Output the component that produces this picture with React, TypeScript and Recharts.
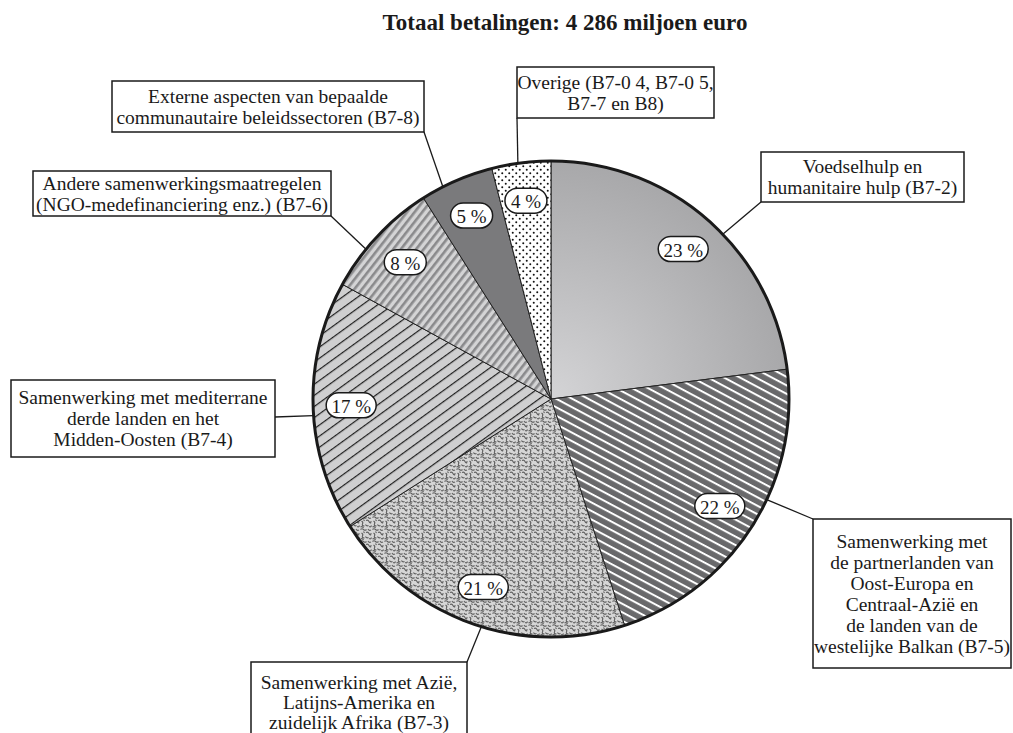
import { Pie, PieChart } from 'recharts';

const SLICE_NAMES = [
  'Voedselhulp en humanitaire hulp (B7-2)',
  'Oost-Europa, Centraal-Azië en westelijke Balkan (B7-5)',
  'Azië, Latijns-Amerika en zuidelijk Afrika (B7-3)',
  'Mediterrane derde landen en Midden-Oosten (B7-4)',
  'Andere samenwerkingsmaatregelen (B7-6)',
  'Externe aspecten (B7-8)',
  'Overige (B7-0 4, B7-0 5, B7-7 en B8)'
];
const SLICE_SHARES = [23, 22, 21, 17, 8, 5, 4];

const CALLOUT_LINES = [
  ['Voedselhulp en', 'humanitaire hulp (B7‑2)'],
  [
    'Samenwerking met',
    'de partnerlanden van',
    'Oost‑Europa en',
    'Centraal‑Azië en',
    'de landen van de',
    'westelijke Balkan (B7‑5)'
  ],
  ['Samenwerking met Azië,', 'Latijns‑Amerika en', 'zuidelijk Afrika (B7‑3)'],
  ['Samenwerking met mediterrane', 'derde landen en het', 'Midden‑Oosten (B7‑4)'],
  ['Andere samenwerkingsmaatregelen', '(NGO‑medefinanciering enz.) (B7‑6)'],
  ['Externe aspecten van bepaalde', 'communautaire beleidssectoren (B7‑8)'],
  ['Overige (B7‑0 4, B7‑0 5,', 'B7‑7 en B8)']
];

const TITLE = 'Totaal betalingen: 4 286 miljoen euro';

// layout
const CX = 551;
const CY = 399;
const R = 238;
const FONT = '"Liberation Serif", "Times New Roman", serif';
const FILLS = ['url(#fFood)', 'url(#fEast)', 'url(#fAsia)', 'url(#fMed)', 'url(#fOther)', '#7a7a7c', 'url(#fDots)'];

// box x, y, w, h, anchor on box, rim angle for the leader line, optional first text line y
const BOXES = [
  { x: 761, y: 152, w: 203, h: 50, ax: 761, ay: 202, angle: 43.8, ty: 0 },
  { x: 813, y: 519, w: 198, h: 149, ax: 813, ay: 519, angle: -25, ty: 0 },
  { x: 251, y: 662, w: 216, h: 90, ax: 467, ay: 662, angle: -107, ty: 682 },
  { x: 11, y: 380, w: 264, h: 77, ax: 275, ay: 417, angle: 184, ty: 0 },
  { x: 33, y: 171, w: 298, h: 45, ax: 331, ay: 216, angle: 141, ty: 0 },
  { x: 112, y: 81, w: 312, h: 51, ax: 424, ay: 132, angle: 117, ty: 0 },
  { x: 517, y: 67, w: 197, h: 51, ax: 517, ay: 118, angle: 98, ty: 0 }
];

const data = SLICE_NAMES.map((name, i) => ({ name, value: SLICE_SHARES[i], fill: FILLS[i] }));

const RAD = Math.PI / 180;

function renderLabel(props: any) {
  const { cx, cy, midAngle, outerRadius, index, value } = props;
  const r = outerRadius * 0.84;
  const lx = cx + r * Math.cos(-midAngle * RAD);
  const ly = cy + r * Math.sin(-midAngle * RAD);
  const box = BOXES[index];
  const rx = cx + outerRadius * Math.cos(box.angle * RAD);
  const ry = cy - outerRadius * Math.sin(box.angle * RAD);
  const lines = CALLOUT_LINES[index];
  const lh = index === 2 ? 20 : 21;
  const top = box.ty || box.y + box.h / 2 - ((lines.length - 1) * lh) / 2;
  const pillText = `${value} %`;
  const pw = pillText.length > 3 ? 50 : 42;
  return (
    <g key={`lab-${index}`}>
      {index === 0 && <circle cx={cx} cy={cy} r={outerRadius} fill="none" stroke="#1a1a1a" strokeWidth={3} />}
      <line x1={box.ax} y1={box.ay} x2={rx} y2={ry} stroke="#1a1a1a" strokeWidth={1.3} />
      <rect x={box.x} y={box.y} width={box.w} height={box.h} fill="#fff" stroke="#1a1a1a" strokeWidth={1.5} />
      {lines.map((t, i) => (
        <text
          key={i}
          x={box.x + box.w / 2}
          y={top + i * lh}
          textAnchor="middle"
          dominantBaseline="central"
          fontFamily={FONT}
          fontSize={19.5}
          fill="#1a1a1a"
        >
          {t}
        </text>
      ))}
      <rect x={lx - pw / 2} y={ly - 12.5} width={pw} height={25} rx={12.5} fill="#fff" stroke="#1a1a1a" strokeWidth={1.5} />
      <text x={lx} y={ly + 1} textAnchor="middle" dominantBaseline="central" fontFamily={FONT} fontSize={19} fill="#1a1a1a">
        {pillText}
      </text>
    </g>
  );
}

function Patterns() {
  return (
    <svg width={0} height={0} style={{ position: 'absolute' }}>
      <defs>
        <radialGradient id="fFood" gradientUnits="userSpaceOnUse" cx={CX} cy={CY} r={R}>
          <stop offset="0" stopColor="#d4d4d6" />
          <stop offset="1" stopColor="#a8a8aa" />
        </radialGradient>
        <pattern id="fEast" patternUnits="userSpaceOnUse" width={10} height={7.5} patternTransform="rotate(28)">
          <rect width={10} height={7.5} fill="#69696b" />
          <rect width={10} height={2} fill="#fff" />
        </pattern>
        <pattern id="fMed" patternUnits="userSpaceOnUse" width={10} height={9} patternTransform="rotate(-36)">
          <rect width={10} height={9} fill="#cfcfd0" />
          <rect width={10} height={1.2} fill="#1e1e1e" />
        </pattern>
        <pattern id="fOther" patternUnits="userSpaceOnUse" width={10} height={6} patternTransform="rotate(-52)">
          <rect width={10} height={6} fill="#d4d4d5" />
          <rect width={10} height={2.6} fill="#8a8a8c" />
        </pattern>
        <pattern id="fDots" patternUnits="userSpaceOnUse" width={7} height={7}>
          <rect width={7} height={7} fill="#fff" />
          <circle cx={1.75} cy={1.75} r={1} fill="#111" />
          <circle cx={5.25} cy={5.25} r={1} fill="#111" />
        </pattern>
        <pattern id="fAsia" patternUnits="userSpaceOnUse" width={12} height={12}>
          <rect width={12} height={12} fill="#d6d6d6" />
          <g fill="none" stroke="#5e5e5e" strokeWidth={1.1}>
            <path d="M0.5 1.5 q1.5 -1.5 3 0 t3 0" />
            <path d="M8 1 q1 2 3 1" />
            <path d="M1.5 5 q2 1 1 3 t2 2" />
            <path d="M6 4.5 q2 -1 3 1 t2 1" />
            <path d="M5.5 8.5 q1 2 3 1" />
            <path d="M9 10.5 q2 1 2.5 -1" />
            <path d="M0.5 11 q2 -1 3 1" />
            <path d="M10 6.5 l1.5 -1" />
            <path d="M3.5 3.5 l1 1.5" />
          </g>
        </pattern>
      </defs>
    </svg>
  );
}

export default function App() {
  return (
    <div style={{ position: 'absolute', left: 0, top: 0, width: 1013, height: 733, overflow: 'hidden', background: '#fff' }}>
      <Patterns />
      <svg width={1013} height={50} style={{ position: 'absolute', left: 0, top: 0 }}>
        <text x={565} y={30} textAnchor="middle" fontFamily={FONT} fontWeight="bold" fontSize={23} fill="#1a1a1a">
          {TITLE}
        </text>
      </svg>
      <div style={{ position: 'absolute', left: 0, top: 0 }}>
        <PieChart width={1013} height={733} margin={{ top: 0, right: 0, bottom: 0, left: 0 }}>
          <Pie
            data={data}
            dataKey="value"
            nameKey="name"
            cx={CX}
            cy={CY}
            outerRadius={R}
            startAngle={90}
            endAngle={-270}
            stroke="#222"
            strokeWidth={1}
            label={renderLabel}
            labelLine={false}
            isAnimationActive={false}
          />
        </PieChart>
      </div>
    </div>
  );
}
